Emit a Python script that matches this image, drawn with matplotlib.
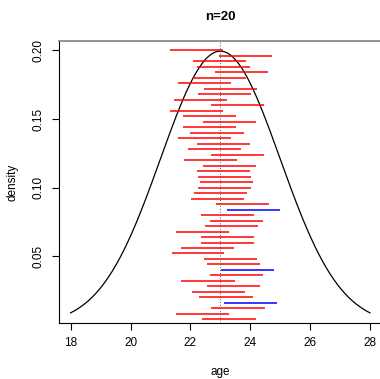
import numpy as np
import matplotlib
matplotlib.use('Agg')
import matplotlib.pyplot as plt

plt.rcParams['font.family'] = ['Liberation Sans', 'DejaVu Sans']

# population and sample size
mu = 23
sigma = 2
n = 20

# confidence intervals (top to bottom)
lower = [21.33, 22.97, 22.08, 22.22, 22.83, 22.09, 21.58, 22.47, 22.27, 21.44,
         22.69, 21.33, 21.76, 22.41, 21.76, 22.00, 21.58, 22.22, 21.92, 22.70,
         21.79, 22.41, 22.22, 22.27, 22.33, 22.27, 22.11, 22.01, 22.86, 23.21,
         22.37, 22.66, 22.50, 21.52, 22.37, 22.37, 21.68, 21.37, 22.44, 22.54,
         23.02, 22.64, 21.70, 22.56, 22.07, 22.30, 23.13, 22.70, 21.52, 22.40]
upper = [23.09, 24.74, 23.86, 23.98, 24.61, 23.87, 23.36, 24.22, 24.03, 23.22,
         24.47, 23.09, 23.53, 24.19, 23.53, 23.78, 23.36, 23.98, 23.69, 24.47,
         23.56, 24.19, 23.99, 24.03, 24.10, 24.03, 23.89, 23.79, 24.62, 24.99,
         24.13, 24.42, 24.27, 23.29, 24.14, 24.14, 23.46, 23.14, 24.22, 24.32,
         24.80, 24.42, 23.48, 24.33, 23.84, 24.08, 24.90, 24.48, 23.29, 24.18]

x_ticks = [18, 20, 22, 24, 26, 28]
y_ticks = [0.05, 0.10, 0.15, 0.20]

fig = plt.figure(figsize=(3.8, 3.79), dpi=100)
ax = fig.add_axes([0.1545, 0.147, 0.8505, 0.7457])

# normal density curve
xs = np.linspace(18, 28, 400)
dens = np.exp(-0.5 * ((xs - mu) / sigma) ** 2) / (sigma * np.sqrt(2 * np.pi))
ax.plot(xs, dens, color='black', lw=0.9)

# intervals stacked from top of curve downwards
levels = np.linspace(0.2, 0.004, len(lower))
for lo, hi, yy in zip(lower, upper, levels):
    col = 'red' if lo <= mu <= hi else 'blue'
    ax.plot([lo, hi], [yy, yy], color=col, lw=1.1, solid_capstyle='butt')

ax.axvline(mu, color='#555555', lw=0.7, ls=(0, (1, 2)))

ax.set_xlim(17.6, 28.4)
ax.set_ylim(dens.min() - 0.04 * (dens.max() - dens.min()),
            dens.max() + 0.04 * (dens.max() - dens.min()))

ax.set_xticks(x_ticks)
ax.set_xticklabels([str(t) for t in x_ticks])
ax.set_yticks(y_ticks)
ax.set_yticklabels(['%.2f' % t for t in y_ticks], rotation=90, va='center')
ax.tick_params(direction='out', length=5, width=0.8, labelsize=8.5, pad=5)

for s in ['left', 'bottom']:
    ax.spines[s].set_linewidth(0.8)
ax.spines['top'].set_color('#808080')
ax.spines['top'].set_linewidth(1.2)

ax.set_xlabel('age', fontsize=8.5, labelpad=12)
ax.set_ylabel('density', fontsize=8.5, labelpad=10)
ax.set_title('n=20', fontsize=9.5, fontweight='bold', pad=15)

fig.savefig('out.png', dpi=100)
